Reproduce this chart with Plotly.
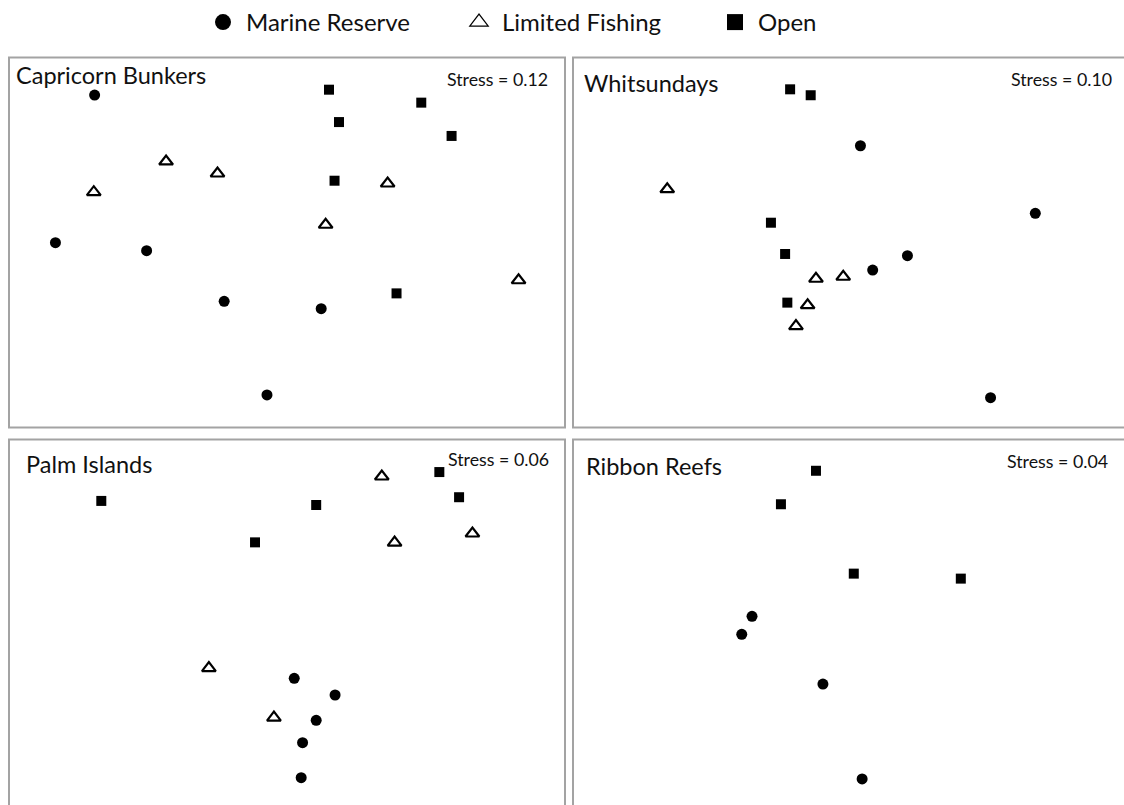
import plotly.graph_objects as go

# ---- NMDS ordination scores for each region (MDS1, MDS2) ----
regions = ["Capricorn Bunkers", "Whitsundays", "Palm Islands", "Ribbon Reefs"]
stress_values = [0.12, 0.10, 0.06, 0.04]
groups = ["Marine Reserve", "Limited Fishing", "Open"]

capricorn_reserve_x = [-0.692, -0.833, -0.505, -0.226, 0.123, -0.072]
capricorn_reserve_y = [0.797, -0.001, -0.044, -0.318, -0.358, -0.824]
capricorn_limited_x = [-0.435, -0.250, -0.695, 0.362, 0.139, 0.833]
capricorn_limited_y = [0.438, 0.373, 0.272, 0.319, 0.096, -0.204]
capricorn_open_x = [0.151, 0.483, 0.187, 0.592, 0.171, 0.394]
capricorn_open_y = [0.826, 0.756, 0.651, 0.576, 0.334, -0.275]

whitsundays_reserve_x = [0.034, 0.663, 0.203, 0.078, 0.502]
whitsundays_reserve_y = [0.523, 0.158, -0.071, -0.149, -0.839]
whitsundays_limited_x = [-0.661, -0.126, -0.028, -0.156, -0.198]
whitsundays_limited_y = [0.288, -0.196, -0.185, -0.339, -0.452]
whitsundays_open_x = [-0.219, -0.145, -0.288, -0.237, -0.229]
whitsundays_open_y = [0.828, 0.796, 0.107, -0.062, -0.325]

palm_reserve_x = [0.026, 0.173, 0.105, 0.056, 0.051]
palm_reserve_y = [-0.291, -0.381, -0.518, -0.639, -0.828]
palm_limited_x = [0.341, 0.387, 0.667, -0.281, -0.047]
palm_limited_y = [0.800, 0.443, 0.492, -0.236, -0.503]
palm_open_x = [-0.668, 0.105, -0.115, 0.548, 0.619]
palm_open_y = [0.668, 0.646, 0.444, 0.824, 0.688]

ribbon_reserve_x = [-0.356, -0.393, -0.101, 0.040]
ribbon_reserve_y = [0.044, -0.053, -0.322, -0.835]
ribbon_limited_x = []
ribbon_limited_y = []
ribbon_open_x = [-0.126, -0.252, 0.010, 0.395]
ribbon_open_y = [0.831, 0.650, 0.275, 0.248]

panel_data = [
    [(capricorn_reserve_x, capricorn_reserve_y), (capricorn_limited_x, capricorn_limited_y),
     (capricorn_open_x, capricorn_open_y)],
    [(whitsundays_reserve_x, whitsundays_reserve_y), (whitsundays_limited_x, whitsundays_limited_y),
     (whitsundays_open_x, whitsundays_open_y)],
    [(palm_reserve_x, palm_reserve_y), (palm_limited_x, palm_limited_y),
     (palm_open_x, palm_open_y)],
    [(ribbon_reserve_x, ribbon_reserve_y), (ribbon_limited_x, ribbon_limited_y),
     (ribbon_open_x, ribbon_open_y)],
]

# ---- page layout (pixels) ----
W, H = 1124, 805
# panel frames: left, top, right, bottom (right/bottom panels run past the page edge)
boxes = [
    (9, 57.5, 565, 427.5),
    (573, 57.5, 1129, 427.5),
    (9, 439.5, 565, 809.5),
    (573, 439.5, 1129, 809.5),
]
title_pos = [(14, 75.5), (581.5, 83), (24, 464), (584, 466)]
stress_pos = [(444.5, 79), (1008.5, 79), (445.5, 459), (1005, 461)]

FONT = "Lato"
marker_styles = [
    dict(symbol="circle", size=11, color="black"),
    dict(symbol="triangle-up-open", size=12, color="black", line=dict(width=2.2, color="black")),
    dict(symbol="square", size=10, color="black"),
]
legend_styles = [
    dict(symbol="circle", size=16, color="black"),
    dict(symbol="triangle-up-open", size=16, color="black", line=dict(width=1.2, color="black")),
    dict(symbol="square", size=16, color="black"),
]


def px_x(v):
    return v / W


def px_y(v):
    return 1 - v / H


fig = go.Figure()
layout_axes = {}
shapes = []
annotations = []

for i, (L, T, R, B) in enumerate(boxes):
    n = i + 1
    xa = "x" if n == 1 else f"x{n}"
    ya = "y" if n == 1 else f"y{n}"
    # visible part of the frame and the matching part of the [-1, 1] score range
    vL, vR = max(L, 0), min(R, W)
    vT, vB = max(T, 0), min(B, H)
    xr = [-1 + 2 * (vL - L) / (R - L), -1 + 2 * (vR - L) / (R - L)]
    yr = [1 - 2 * (vB - T) / (B - T), 1 - 2 * (vT - T) / (B - T)]
    axis_common = dict(visible=False, showgrid=False, zeroline=False, fixedrange=True)
    layout_axes["xaxis" if n == 1 else f"xaxis{n}"] = dict(
        domain=[px_x(vL), px_x(vR)], range=xr, anchor=ya, **axis_common)
    layout_axes["yaxis" if n == 1 else f"yaxis{n}"] = dict(
        domain=[px_y(vB), px_y(vT)], range=yr, anchor=xa, **axis_common)

    for g, (xs, ys) in enumerate(panel_data[i]):
        if not xs:
            continue
        fig.add_trace(go.Scatter(
            x=xs, y=ys, mode="markers", xaxis=xa, yaxis=ya,
            marker=marker_styles[g], name=groups[g], legendgroup=groups[g],
            showlegend=False, hoverinfo="skip", cliponaxis=False))

    shapes.append(dict(type="rect", xref="paper", yref="paper",
                       x0=px_x(L), x1=px_x(R), y0=px_y(B), y1=px_y(T),
                       line=dict(color="#a3a3a3", width=2), fillcolor="rgba(0,0,0,0)"))
    tx, ty = title_pos[i]
    annotations.append(dict(text=regions[i], x=px_x(tx), y=px_y(ty), xref="paper", yref="paper",
                            xanchor="left", yanchor="middle", showarrow=False,
                            font=dict(family=FONT, size=23.5, color="#111111")))
    sx, sy = stress_pos[i]
    annotations.append(dict(text=f"Stress = {stress_values[i]:.2f}", x=px_x(sx), y=px_y(sy),
                            xref="paper", yref="paper", xanchor="left", yanchor="middle",
                            showarrow=False, font=dict(family=FONT, size=17.8, color="#111111")))

# legend entries
for g in range(3):
    fig.add_trace(go.Scatter(x=[None], y=[None], mode="markers", marker=legend_styles[g],
                             name=groups[g], legendgroup=groups[g], showlegend=True))

fig.update_layout(
    width=W, height=H,
    margin=dict(l=0, r=0, t=0, b=0),
    paper_bgcolor="white", plot_bgcolor="white",
    shapes=shapes, annotations=annotations,
    showlegend=True,
    legend=dict(orientation="h", x=px_x(200), y=1, xanchor="left", yanchor="top",
                font=dict(family=FONT, size=24, color="#111111"),
                itemwidth=36, entrywidth=205, entrywidthmode="pixels",
                itemsizing="trace", bgcolor="rgba(0,0,0,0)"),
    **layout_axes,
)

fig.write_html("out.html")
